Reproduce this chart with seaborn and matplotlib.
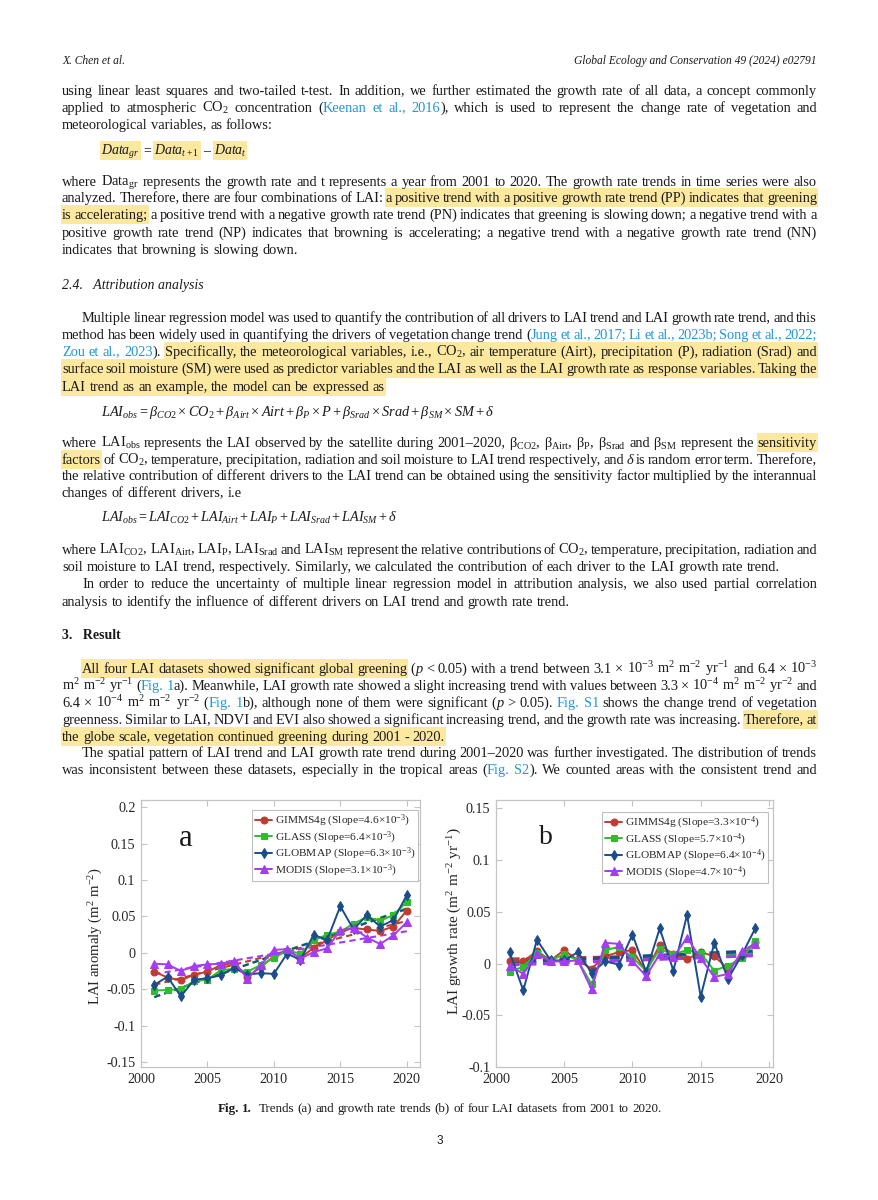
import math

import matplotlib
matplotlib.use("Agg")
import matplotlib.pyplot as plt
from matplotlib.patches import Rectangle
import numpy as np
import pandas as pd
import seaborn as sns

# page size in pixels (saved at dpi 100)
W, H = 879, 1200

# ---- chart data ----
years = list(range(2001, 2021))
gr_years = list(range(2001, 2020))
datasets = ["GIMMS4g", "GLASS", "GLOBMAP", "MODIS"]

gimms_anom = [-0.026, -0.034, -0.038, -0.030, -0.026, -0.017, -0.014, -0.033, -0.020, -0.005,
              0.003, -0.007, 0.007, 0.017, 0.029, 0.034, 0.032, 0.030, 0.036, 0.058]
glass_anom = [-0.052, -0.051, -0.050, -0.039, -0.037, -0.024, -0.022, -0.026, -0.017, -0.007,
              0.003, -0.001, 0.017, 0.025, 0.029, 0.040, 0.049, 0.044, 0.052, 0.070]
globmap_anom = [-0.044, -0.033, -0.060, -0.037, -0.035, -0.031, -0.021, -0.030, -0.028, -0.029,
                -0.001, -0.010, 0.025, 0.017, 0.064, 0.032, 0.052, 0.036, 0.045, 0.079]
modis_anom = [-0.015, -0.016, -0.025, -0.018, -0.016, -0.015, -0.011, -0.036, -0.017, 0.004,
              0.005, -0.008, 0.001, 0.006, 0.031, 0.034, 0.021, 0.012, 0.024, 0.042]

gimms_gr = [0.002, 0.002, 0.012, 0.003, 0.013, 0.003, -0.005, 0.007, 0.011, 0.013,
            -0.008, 0.018, 0.009, 0.004, 0.011, 0.007, -0.005, 0.006, 0.021]
glass_gr = [-0.008, -0.003, 0.010, 0.003, 0.009, 0.003, -0.020, 0.013, 0.016, 0.006,
            -0.007, 0.014, 0.009, 0.013, 0.010, -0.007, -0.002, 0.005, 0.022]
globmap_gr = [0.011, -0.026, 0.023, 0.003, 0.003, 0.011, -0.009, 0.002, -0.001, 0.028,
              -0.008, 0.034, -0.007, 0.047, -0.032, 0.020, -0.015, 0.008, 0.034]
modis_gr = [-0.002, -0.010, 0.009, 0.002, 0.002, 0.003, -0.025, 0.020, 0.019, 0.002,
            -0.012, 0.009, 0.006, 0.025, 0.005, -0.013, -0.010, 0.012, 0.019]

anom_slopes = ["4.6", "6.4", "6.3", "3.1"]
gr_slopes = ["3.3", "5.7", "6.4", "4.7"]

x_ticks = [2000, 2005, 2010, 2015, 2020]
anom_ticks = [-0.15, -0.1, -0.05, 0, 0.05, 0.1, 0.15, 0.2]
anom_tick_labels = ["-0.15", "-0.1", "-0.05", "0", "0.05", "0.1", "0.15", "0.2"]
gr_ticks = [-0.1, -0.05, 0, 0.05, 0.1, 0.15]
gr_tick_labels = ["-0.1", "-0.05", "0", "0.05", "0.1", "0.15"]

colors = ["#be3c32", "#2dbd2d", "#1b4c8c", "#a43cf2"]
markers = ["o", "s", "d", "^"]
marker_sizes = [5, 4.5, 5.5, 5.5]

INK = "#1a1a1a"
LINK = "#2196d6"
HILITE = "#fde8a0"
AXC = "#c4c4c4"

sns.set_style("ticks")
plt.rcParams["font.family"] = ["Liberation Serif", "DejaVu Serif"]
plt.rcParams["mathtext.fontset"] = "custom"
plt.rcParams["mathtext.rm"] = "Liberation Serif"
plt.rcParams["mathtext.it"] = "Liberation Serif:italic"
plt.rcParams["mathtext.bf"] = "Liberation Serif:bold"

fig = plt.figure(figsize=(W / 100, H / 100), dpi=100)
renderer = fig.canvas.get_renderer()


def fx(x):
    return x / W


def fy(y):
    return 1 - y / H


def space_width(size, italic=False):
    st = "italic" if italic else "normal"
    a = fig.text(0, 0, "x x", fontsize=size, fontstyle=st)
    b = fig.text(0, 0, "xx", fontsize=size, fontstyle=st)
    w = a.get_window_extent(renderer).width - b.get_window_extent(renderer).width
    a.remove()
    b.remove()
    return w


def baseline_nudge(t):
    # each word is its own bitmap, placed by rounding with its own ascent/descent;
    # shift it a fraction of a pixel so every word lands on the same baseline row
    s = t.get_text()
    if "$" in s:
        return 0.0
    _, h, d = renderer.get_text_width_height_descent(s, t.get_fontproperties(), ismath=False)
    a = h - d
    return math.floor(a + d) - math.floor(a) - d + 0.01


def write(spec, y, x0=62, x1=817, mode="left", size=10.4, italic=False):
    # tokens split by spaces; "|" glues parts, @ link, * italic, ! bold, [[ ]] highlight
    segs = []
    hl = False
    for k, tok in enumerate(spec.split(" ")):
        if tok.startswith("[["):
            hl = True
            tok = tok[2:]
        close = tok.endswith("]]")
        if close:
            tok = tok[:-2]
        for part in tok.split("|"):
            link = part.startswith("@")
            ital = italic or part.startswith("*")
            bold = part.startswith("!")
            part = part.lstrip("@*!")
            t = fig.text(0, fy(y), part, fontsize=size, color=LINK if link else INK,
                         fontstyle="italic" if ital else "normal",
                         fontweight="bold" if bold else "normal",
                         va="baseline", ha="left", zorder=3)
            t.set_y(fy(y + baseline_nudge(t)))
            segs.append([t, t.get_window_extent(renderer).width, hl, k])
        if close:
            hl = False
    ntok = segs[-1][3] + 1
    tok_w = [sum(s[1] for s in segs if s[3] == k) for k in range(ntok)]
    space = space_width(size, italic)
    gap = space
    if mode == "justify" and ntok > 1:
        gap = (x1 - x0 - sum(tok_w)) / (ntok - 1)
        if gap < 0.6 * space:
            # line too long for this size: redo it a little smaller
            for s in segs:
                s[0].remove()
            return write(spec, y, x0, x1, mode, size * 0.98, italic)
    elif mode == "center":
        x0 = (x0 + x1) / 2 - (sum(tok_w) + gap * (ntok - 1)) / 2
    x = x0
    prev_k = None
    prev_hl = False
    runs = []
    for t, w, h, k in segs:
        if prev_k is not None and k != prev_k:
            x += gap
        t.set_x(fx(x))
        if h:
            if prev_hl:
                runs[-1][1] = x + w
            else:
                runs.append([x - 1, x + w])
        prev_hl = h
        prev_k = k
        x += w
    for xs, xe in runs:
        fig.add_artist(Rectangle((fx(xs), fy(y + 5)), (xe - xs + 1) / W, 19 / H,
                                 transform=fig.transFigure, facecolor=HILITE,
                                 edgecolor="none", zorder=1))


# ---- running header ----
fig.text(fx(62), fy(64), "X. Chen et al.", fontsize=8.3, fontstyle="italic", color=INK, va="baseline")
fig.text(fx(817), fy(64), "Global Ecology and Conservation 49 (2024) e02791", fontsize=8.3,
         fontstyle="italic", color=INK, va="baseline", ha="right")

J = "justify"
body = [
    ("using linear least squares and two-tailed t-test. In addition, we further estimated the growth rate of all data, a concept commonly", 95, 62, J),
    ("applied to atmospheric CO$_2$ concentration (|@Keenan @et @al., @2016|), which is used to represent the change rate of vegetation and", 112, 62, J),
    ("meteorological variables, as follows:", 129, 62, "left"),
    ("where Data$_{\\mathrm{gr}}$ represents the growth rate and t represents a year from 2001 to 2020. The growth rate trends in time series were also", 186, 62, J),
    ("analyzed. Therefore, there are four combinations of LAI: [[a positive trend with a positive growth rate trend (PP) indicates that greening]]", 202, 62, J),
    ("[[is accelerating;]] a positive trend with a negative growth rate trend (PN) indicates that greening is slowing down; a negative trend with a", 219, 62, J),
    ("positive growth rate trend (NP) indicates that browning is accelerating; a negative trend with a negative growth rate trend (NN)", 237, 62, J),
    ("indicates that browning is slowing down.", 254, 62, "left"),
    ("Multiple linear regression model was used to quantify the contribution of all drivers to LAI trend and LAI growth rate trend, and this", 322, 82, J),
    ("method has been widely used in quantifying the drivers of vegetation change trend (|@Jung @et @al., @2017; @Li @et @al., @2023b; @Song @et @al., @2022;", 339, 62, J),
    ("@Zou @et @al., @2023|). [[Specifically, the meteorological variables, i.e., CO$_2$, air temperature (Airt), precipitation (P), radiation (Srad) and]]", 356, 62, J),
    ("[[surface soil moisture (SM) were used as predictor variables and the LAI as well as the LAI growth rate as response variables. Taking the]]", 373, 62, J),
    ("[[LAI trend as an example, the model can be expressed as]]", 391, 62, "left"),
    ("where LAI$_{\\mathrm{obs}}$ represents the LAI observed by the satellite during 2001–2020, β$_{\\mathrm{CO2}}$, β$_{\\mathrm{Airt}}$, β$_{\\mathrm{P}}$, β$_{\\mathrm{Srad}}$ and β$_{\\mathrm{SM}}$ represent the [[sensitivity]]", 447, 62, J),
    ("[[factors]] of CO$_2$, temperature, precipitation, radiation and soil moisture to LAI trend respectively, and *δ is random error term. Therefore,", 464, 62, J),
    ("the relative contribution of different drivers to the LAI trend can be obtained using the sensitivity factor multiplied by the interannual", 480, 62, J),
    ("changes of different drivers, i.e", 497, 62, "left"),
    ("where LAI$_{\\mathrm{CO2}}$, LAI$_{\\mathrm{Airt}}$, LAI$_{\\mathrm{P}}$, LAI$_{\\mathrm{Srad}}$ and LAI$_{\\mathrm{SM}}$ represent the relative contributions of CO$_2$, temperature, precipitation, radiation and", 554, 62, J),
    ("soil moisture to LAI trend, respectively. Similarly, we calculated the contribution of each driver to the LAI growth rate trend.", 571, 62, "left"),
    ("In order to reduce the uncertainty of multiple linear regression model in attribution analysis, we also used partial correlation", 588, 82, J),
    ("analysis to identify the influence of different drivers on LAI trend and growth rate trend.", 606, 62, "left"),
    ("[[All four LAI datasets showed significant global greening]] (|*p < 0.05) with a trend between 3.1 × 10$^{-3}$ m$^2$ m$^{-2}$ yr$^{-1}$ and 6.4 × 10$^{-3}$", 673, 82, J),
    ("m$^2$ m$^{-2}$ yr$^{-1}$ (|@Fig. @1|a). Meanwhile, LAI growth rate showed a slight increasing trend with values between 3.3 × 10$^{-4}$ m$^2$ m$^{-2}$ yr$^{-2}$ and", 690, 62, J),
    ("6.4 × 10$^{-4}$ m$^2$ m$^{-2}$ yr$^{-2}$ (|@Fig. @1|b), although none of them were significant (|*p > 0.05). @Fig. @S1 shows the change trend of vegetation", 707, 62, J),
    ("greenness. Similar to LAI, NDVI and EVI also showed a significant increasing trend, and the growth rate was increasing. [[Therefore, at]]", 724, 62, J),
    ("[[the globe scale, vegetation continued greening during 2001 - 2020.]]", 741, 62, "left"),
    ("The spatial pattern of LAI trend and LAI growth rate trend during 2001–2020 was further investigated. The distribution of trends", 757, 82, J),
    ("was inconsistent between these datasets, especially in the tropical areas (|@Fig. @S2|). We counted areas with the consistent trend and", 774, 62, J),
]
for spec, y, x0, mode in body:
    write(spec, y, x0=x0, mode=mode)

# equations
write("[[$Data_{gr}$]] = [[$Data_{t+1}$]] – [[$Data_{t}$]]", 155, x0=101, size=10)
fig.text(fx(101), fy(416),
         r"$LAI_{obs}=\beta_{CO2}\times CO_{2}+\beta_{Airt}\times Airt+\beta_{P}\times P+\beta_{Srad}\times Srad+\beta_{SM}\times SM+\delta$",
         fontsize=10.4, color=INK, va="baseline")
fig.text(fx(101), fy(522),
         r"$LAI_{obs}=LAI_{CO2}+LAI_{Airt}+LAI_{P}+LAI_{Srad}+LAI_{SM}+\delta$",
         fontsize=10.2, color=INK, va="baseline")

# headings
fig.text(fx(62), fy(289), "2.4.   Attribution analysis", fontsize=10, fontstyle="italic", color=INK, va="baseline")
fig.text(fx(62), fy(639), "3.   Result", fontsize=10, fontweight="bold", color=INK, va="baseline")


# ---- the two chart panels ----
def panel(box, xvals, series, slopes, power, ylim, xlim, ticks, tick_labels, ylabel,
          ylabel_size, ylabel_pos, letter, letter_xy, letter_size, legend_anchor, trend_lw):
    left, right, top, bottom = box
    ax = fig.add_axes([fx(left), fy(bottom), (right - left) / W, (bottom - top) / H])
    frame = pd.DataFrame({
        "year": np.tile(xvals, len(datasets)),
        "value": np.concatenate(series),
        "dataset": np.repeat(datasets, len(xvals)),
    })
    for name, color in zip(datasets, colors):
        sns.regplot(data=frame[frame["dataset"] == name], x="year", y="value",
                    scatter=False, ci=None, truncate=True, color=color, ax=ax,
                    line_kws={"linestyle": (0, (3, 2)), "linewidth": trend_lw})
    for name, color, marker, ms, slope in zip(datasets, colors, markers, marker_sizes, slopes):
        sns.lineplot(data=frame[frame["dataset"] == name], x="year", y="value",
                     color=color, marker=marker, markersize=ms, markeredgecolor=color,
                     linewidth=1.4, errorbar=None, ax=ax,
                     label=f"{name} (Slope={slope}×10$^{{-{power}}}$)")
    ax.set_xlim(*xlim)
    ax.set_ylim(*ylim)
    ax.set_xticks(x_ticks, labels=[str(v) for v in x_ticks])
    ax.set_yticks(ticks, labels=tick_labels)
    ax.tick_params(direction="in", length=4, width=0.8, color=AXC, top=True, right=True,
                   labelsize=10.2, labelcolor="#262626", pad=4)
    for s in ax.spines.values():
        s.set_color(AXC)
        s.set_linewidth(0.9)
    ax.set_xlabel("")
    ax.set_ylabel(ylabel, fontsize=ylabel_size, color="#262626")
    ax.yaxis.set_label_coords(*ylabel_pos)
    leg = ax.legend(loc="upper right", bbox_to_anchor=(fx(legend_anchor[0]), fy(legend_anchor[1])),
                    bbox_transform=fig.transFigure, fontsize=8.2, frameon=True, fancybox=False,
                    edgecolor="#bfbfbf", framealpha=1, borderpad=0.25, labelspacing=0.04,
                    handlelength=1.5, handletextpad=0.2, borderaxespad=0)
    leg.get_frame().set_linewidth(0.8)
    fig.text(fx(letter_xy[0]), fy(letter_xy[1]), letter, fontsize=letter_size, color=INK,
             ha="center", va="center")
    return ax


panel((141, 420, 800, 1067), years, [gimms_anom, glass_anom, globmap_anom, modis_anom],
      anom_slopes, 3, (-0.157, 0.21), (2000, 2021), anom_ticks, anom_tick_labels,
      "LAI anomaly (m$^{2}$ m$^{-2}$)", 10.6, (-0.128, 0.49), "a", (186, 838), 22,
      (418, 810), 1.5)
panel((496, 773, 800, 1067), gr_years, [gimms_gr, glass_gr, globmap_gr, modis_gr],
      gr_slopes, 4, (-0.1, 0.158), (2000, 2020.3), gr_ticks, gr_tick_labels,
      "LAI growth rate (m$^{2}$ m$^{-2}$ yr$^{-1}$)", 11, (-0.115, 0.545), "b", (546, 838), 20,
      (768, 812), 2.4)

# caption and page number
write("!Fig. !1.  Trends (a) and growth rate trends (b) of four LAI datasets from 2001 to 2020.",
      1112, x0=62, x1=817, mode="center", size=9.4)
fig.text(fx(440), fy(1144), "3", fontsize=8.5, family="Liberation Sans", color=INK,
         ha="center", va="baseline")

fig.savefig("out.png", dpi=100, facecolor="white")
